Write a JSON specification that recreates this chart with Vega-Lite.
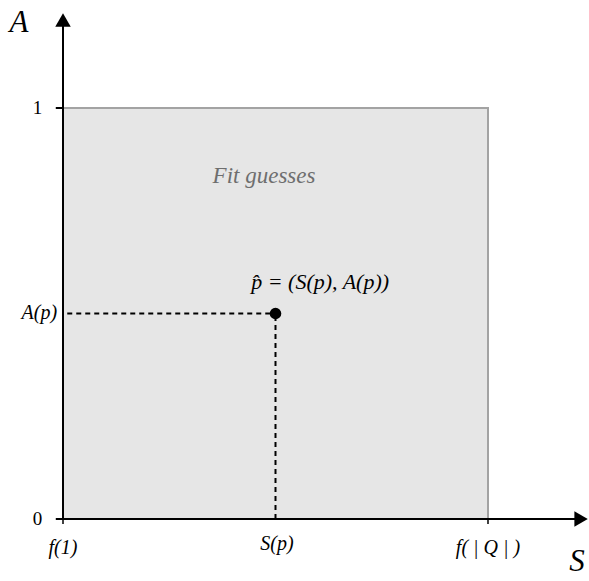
{
  "$schema": "https://vega.github.io/schema/vega-lite/v6.json",
  "width": 589,
  "height": 581,
  "padding": 0,
  "autosize": {"type": "none"},
  "background": "white",
  "config": {"view": {"stroke": null}},
  "datasets": {
    "region": [{"s0": 0, "s1": 1, "a0": 0, "a1": 1}],
    "axes": [
      {"x": 0, "y": 0, "x2": 1.21, "y2": 0},
      {"x": 0, "y": 0, "x2": 0, "y2": 1.2}
    ],
    "yticks": [{"x": -0.017, "x2": 0, "y": 0}, {"x": -0.017, "x2": 0, "y": 1}],
    "xticks": [{"x": 0, "y": 0, "y2": -0.012}, {"x": 1, "y": 0, "y2": -0.012}],
    "arrows": [
      {"x": 0, "y": 1.214, "shape": "triangle-up"},
      {"x": 1.219, "y": 0, "shape": "triangle-right"}
    ],
    "guides": [
      {"x": 0.01, "y": 0.5, "x2": 0.5, "y2": 0.5},
      {"x": 0.5, "y": 0, "x2": 0.5, "y2": 0.5}
    ],
    "point": [{"S": 0.5, "A": 0.5}],
    "bigLabels": [
      {"x": -0.1035, "y": 1.207, "label": "A"},
      {"x": 1.2094, "y": -0.104, "label": "S"}
    ],
    "tickLabels": [
      {"x": -0.049, "y": 1, "label": "1"},
      {"x": -0.049, "y": 0, "label": "0"}
    ],
    "leftLabels": [{"x": -0.014, "y": 0.5, "label": "A(p)"}],
    "bottomLabels": [
      {"x": 0, "y": -0.0706, "label": "f(1)"},
      {"x": 0.5035, "y": -0.062, "label": "S(p)"},
      {"x": 1, "y": -0.0706, "label": "f( | Q | )"}
    ],
    "regionLabel": [{"x": 0.473, "y": 0.8345, "label": "Fit guesses"}],
    "pointLabel": [{"x": 0.605, "y": 0.5766, "label": "p̂ = (S(p), A(p))"}]
  },
  "layer": [
    {
      "data": {"name": "region"},
      "mark": {"type": "rect", "fill": "#e6e6e6", "stroke": "#a3a3a3", "strokeWidth": 2},
      "encoding": {
        "x": {"field": "s0", "type": "quantitative", "scale": {"domain": [-0.14824, 1.23765], "nice": false, "zero": false}, "axis": null},
        "x2": {"field": "s1"},
        "y": {"field": "a0", "type": "quantitative", "scale": {"domain": [-0.15085, 1.26277], "nice": false, "zero": false}, "axis": null},
        "y2": {"field": "a1"}
      }
    },
    {
      "data": {"name": "guides"},
      "mark": {"type": "rule", "color": "black", "strokeWidth": 2, "strokeDash": [5, 4]},
      "encoding": {
        "x": {"field": "x", "type": "quantitative"},
        "x2": {"field": "x2"},
        "y": {"field": "y", "type": "quantitative"},
        "y2": {"field": "y2"}
      }
    },
    {
      "data": {"name": "axes"},
      "mark": {"type": "rule", "color": "black", "strokeWidth": 2},
      "encoding": {
        "x": {"field": "x", "type": "quantitative"},
        "x2": {"field": "x2"},
        "y": {"field": "y", "type": "quantitative"},
        "y2": {"field": "y2"}
      }
    },
    {
      "data": {"name": "yticks"},
      "mark": {"type": "rule", "color": "black", "strokeWidth": 2},
      "encoding": {
        "x": {"field": "x", "type": "quantitative"},
        "x2": {"field": "x2"},
        "y": {"field": "y", "type": "quantitative"}
      }
    },
    {
      "data": {"name": "xticks"},
      "mark": {"type": "rule", "color": "black", "strokeWidth": 1.5},
      "encoding": {
        "x": {"field": "x", "type": "quantitative"},
        "y": {"field": "y", "type": "quantitative"},
        "y2": {"field": "y2"}
      }
    },
    {
      "data": {"name": "arrows"},
      "mark": {"type": "point", "filled": true, "color": "black", "opacity": 1, "size": 240},
      "encoding": {
        "x": {"field": "x", "type": "quantitative"},
        "y": {"field": "y", "type": "quantitative"},
        "shape": {"field": "shape", "type": "nominal", "scale": null, "legend": null}
      }
    },
    {
      "data": {"name": "point"},
      "mark": {"type": "point", "filled": true, "color": "black", "opacity": 1, "size": 135, "shape": "circle"},
      "encoding": {
        "x": {"field": "S", "type": "quantitative"},
        "y": {"field": "A", "type": "quantitative"}
      }
    },
    {
      "data": {"name": "bigLabels"},
      "mark": {"type": "text", "font": "Liberation Serif", "fontStyle": "italic", "fontSize": 31, "align": "center", "baseline": "middle", "color": "black"},
      "encoding": {
        "x": {"field": "x", "type": "quantitative"},
        "y": {"field": "y", "type": "quantitative"},
        "text": {"field": "label"}
      }
    },
    {
      "data": {"name": "tickLabels"},
      "mark": {"type": "text", "font": "Liberation Serif", "fontSize": 19, "align": "right", "baseline": "middle", "color": "black"},
      "encoding": {
        "x": {"field": "x", "type": "quantitative"},
        "y": {"field": "y", "type": "quantitative"},
        "text": {"field": "label"}
      }
    },
    {
      "data": {"name": "leftLabels"},
      "mark": {"type": "text", "font": "Liberation Serif", "fontStyle": "italic", "fontSize": 20, "align": "right", "baseline": "middle", "color": "black"},
      "encoding": {
        "x": {"field": "x", "type": "quantitative"},
        "y": {"field": "y", "type": "quantitative"},
        "text": {"field": "label"}
      }
    },
    {
      "data": {"name": "bottomLabels"},
      "mark": {"type": "text", "font": "Liberation Serif", "fontStyle": "italic", "fontSize": 20, "align": "center", "baseline": "middle", "color": "black"},
      "encoding": {
        "x": {"field": "x", "type": "quantitative"},
        "y": {"field": "y", "type": "quantitative"},
        "text": {"field": "label"}
      }
    },
    {
      "data": {"name": "regionLabel"},
      "mark": {"type": "text", "font": "Liberation Serif", "fontStyle": "italic", "fontSize": 23, "align": "center", "baseline": "middle", "color": "#6e6e6e"},
      "encoding": {
        "x": {"field": "x", "type": "quantitative"},
        "y": {"field": "y", "type": "quantitative"},
        "text": {"field": "label"}
      }
    },
    {
      "data": {"name": "pointLabel"},
      "mark": {"type": "text", "font": "Liberation Serif", "fontStyle": "italic", "fontSize": 22, "align": "center", "baseline": "middle", "color": "black"},
      "encoding": {
        "x": {"field": "x", "type": "quantitative"},
        "y": {"field": "y", "type": "quantitative"},
        "text": {"field": "label"}
      }
    }
  ]
}
